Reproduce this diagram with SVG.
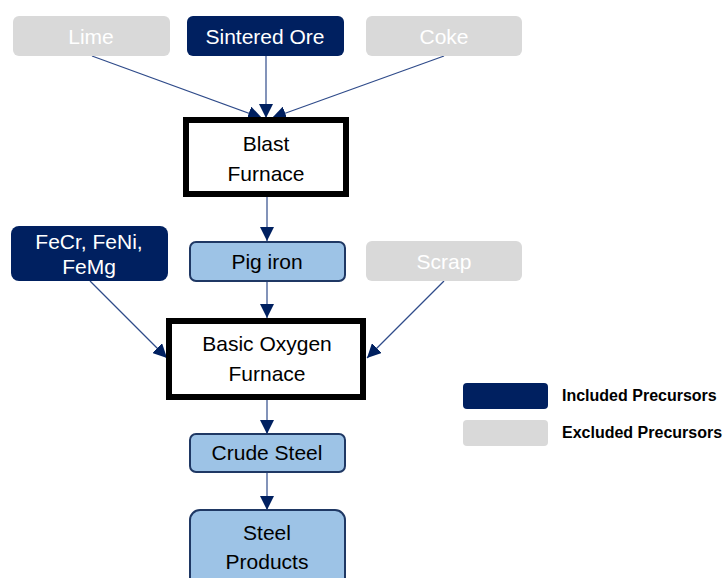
<svg xmlns="http://www.w3.org/2000/svg" width="723" height="578" viewBox="0 0 723 578">
<defs>
<marker id="ah" viewBox="0 0 10 10" refX="10" refY="5" markerWidth="14" markerHeight="14" markerUnits="userSpaceOnUse" orient="auto">
<path d="M0,0 L10,5 L0,10 z" fill="#002060"/>
</marker>
<style>
text{font-family:"Liberation Sans",Arial,sans-serif;font-size:21px;text-anchor:middle;}
.inc{fill:#002060;}
.exc{fill:#D9D9D9;}
.wt{fill:#FFFFFF;}
.bk{fill:#000000;}
.proc{fill:#FFFFFF;stroke:#000000;stroke-width:6;}
.prod{fill:#9DC3E6;stroke:#1F3864;stroke-width:2;}
.conn line{stroke:#2F4B8A;stroke-width:1.2;marker-end:url(#ah);}
.leg{font-size:16px;font-weight:bold;text-anchor:start;}
</style>
</defs>
<rect width="723" height="578" fill="#FFFFFF"/>
<g id="connectors" class="conn">
<line x1="92" y1="56" x2="262" y2="118"/>
<line x1="266" y1="56" x2="266" y2="118"/>
<line x1="444" y1="56" x2="272" y2="118"/>
<line x1="267" y1="196" x2="267" y2="241"/>
<line x1="267" y1="281" x2="267" y2="318"/>
<line x1="90" y1="281" x2="167" y2="358"/>
<line x1="444" y1="281" x2="367" y2="358"/>
<line x1="267" y1="400" x2="267" y2="434"/>
<line x1="267" y1="472" x2="267" y2="510"/>
</g>
<g id="lime"><rect class="exc" x="13" y="16" width="157" height="40" rx="6"/><text class="wt" x="91" y="44">Lime</text></g>
<g id="sintered-ore"><rect class="inc" x="187" y="16" width="157" height="40" rx="6"/><text class="wt" x="265" y="44">Sintered Ore</text></g>
<g id="coke"><rect class="exc" x="366" y="16" width="156" height="40" rx="6"/><text class="wt" x="444" y="44">Coke</text></g>
<g id="blast-furnace"><rect class="proc" x="186" y="120" width="160" height="74"/><text class="bk" x="266" y="151">Blast</text><text class="bk" x="266" y="181">Furnace</text></g>
<g id="fecr"><rect class="inc" x="11" y="226" width="157" height="55" rx="8"/><text class="wt" x="89" y="249">FeCr, FeNi,</text><text class="wt" x="89" y="274">FeMg</text></g>
<g id="pig-iron"><rect class="prod" x="190" y="242" width="155" height="39" rx="6"/><text class="bk" x="267" y="269">Pig iron</text></g>
<g id="scrap"><rect class="exc" x="366" y="241" width="156" height="40" rx="6"/><text class="wt" x="444" y="269">Scrap</text></g>
<g id="bof"><rect class="proc" x="169" y="321" width="194" height="76"/><text class="bk" x="267" y="351">Basic Oxygen</text><text class="bk" x="267" y="381">Furnace</text></g>
<g id="crude-steel"><rect class="prod" x="190" y="434" width="155" height="38" rx="6"/><text class="bk" x="267" y="460">Crude Steel</text></g>
<g id="steel-products"><rect class="prod" x="190" y="510" width="155" height="80" rx="10"/><text class="bk" x="267" y="540">Steel</text><text class="bk" x="267" y="569">Products</text></g>
<g id="legend">
<rect class="inc" x="463" y="383" width="85" height="26" rx="4"/>
<rect class="exc" x="463" y="420" width="85" height="26" rx="4"/>
<text class="bk leg" x="562" y="401">Included Precursors</text>
<text class="bk leg" x="562" y="438">Excluded Precursors</text>
</g>
</svg>
